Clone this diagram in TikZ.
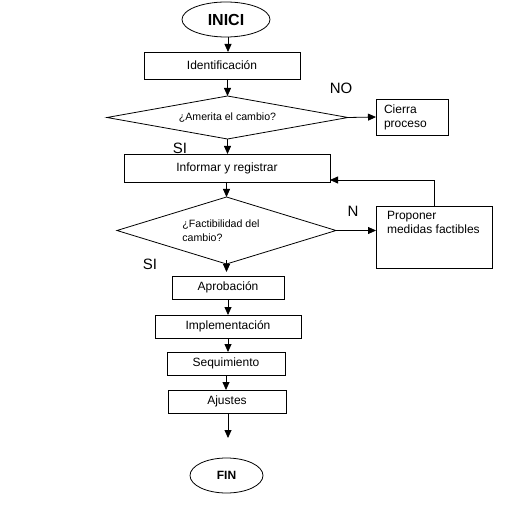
\documentclass[tikz,border=0pt]{standalone}
\usepackage{fontspec}
\setmainfont{Liberation Sans}
\usetikzlibrary{shapes.geometric,arrows.meta}
\begin{document}
\begin{tikzpicture}[x=1pt,y=-1pt,
  every node/.style={inner sep=0pt, outer sep=0pt},
  box/.style={draw, line width=0.8pt, font=\fontsize{12}{14}\selectfont},
  dia/.style={draw, line width=0.8pt, diamond, aspect=5, font=\fontsize{10.6}{14}\selectfont},
  oval/.style={draw, line width=0.8pt, ellipse},
  txt/.style={font=\fontsize{12}{14}\selectfont, align=left},
  lbl/.style={font=\fontsize{15}{17}\selectfont},
  arr/.style={line width=0.8pt, -{Triangle[length=8pt,width=7pt]}}]
\useasboundingbox (0,0) rectangle (519,526);
\node[oval, minimum width=88, minimum height=35, font=\bfseries\fontsize{16}{18}\selectfont] (inici) at (226,19.5) {INICI};
\node[box, minimum width=156, minimum height=27] (ident) at (222,65.5) {Identificación};
\node[dia, minimum width=241, minimum height=43] (d1) at (227.5,117.5) {¿Amerita el cambio?};
\node[box, minimum width=72, minimum height=36, text width=56, align=left] (cierra) at (412,117) {Cierra\\proceso};
\node[box, minimum width=206, minimum height=28] (info) at (227,168) {Informar y registrar};
\node[dia, minimum width=219, minimum height=67] (d2) at (226.5,230.5) {};
\node[txt, font=\fontsize{10.6}{14}\selectfont] (d2txt) at (221,231) {¿Factibilidad del\\cambio?};
\node[box, minimum width=116, minimum height=62] (prop) at (434,237) {};
\node[txt, anchor=north west] (proptxt) at (387,211) {Proponer\\medidas factibles};
\node[box, minimum width=112, minimum height=23] (apro) at (228,287.5) {Aprobación};
\node[box, minimum width=146, minimum height=23] (impl) at (228,326.5) {Implementación};
\node[box, minimum width=118, minimum height=23] (segu) at (226,363.5) {Sequimiento};
\node[box, minimum width=118, minimum height=23] (ajus) at (227,401.5) {Ajustes};
\node[oval, minimum width=73, minimum height=35, font=\bfseries\fontsize{12}{14}\selectfont] (fin) at (226.5,475.5) {FIN};
\coordinate (finarr) at (228,438);
\node[lbl] (no) at (341,88) {NO};
\node[lbl] (si1) at (180,148) {SI};
\node[lbl] (n) at (353,211) {N};
\node[lbl] (si2) at (150,264) {SI};
\draw[arr] ([xshift=2pt]inici.south) -- ([xshift=2pt]inici.south |- ident.north);
\draw[arr] (d1.north |- ident.south) -- (d1.north);
\draw[arr] (d1.east) -- (cierra.west);
\draw[arr] (d1.south) -- (d1.south |- info.north);
\draw[arr] (d2.north |- info.south) -- (d2.north);
\draw[arr] (d2.east) -- (d2.east -| prop.west);
\draw[arr] (prop.north) |- ([yshift=2pt]info.south east);
\draw[arr] ([yshift=4pt]d2.south) -- ([yshift=4pt]d2.south |- apro.north);
\draw[arr] (apro.south) -- (impl.north);
\draw[arr] (impl.south) -- (impl.south |- segu.north);
\draw[arr] (segu.south) -- (segu.south |- ajus.north);
\draw[arr] (ajus.south -| finarr) -- (finarr);
\end{tikzpicture}
\end{document}
